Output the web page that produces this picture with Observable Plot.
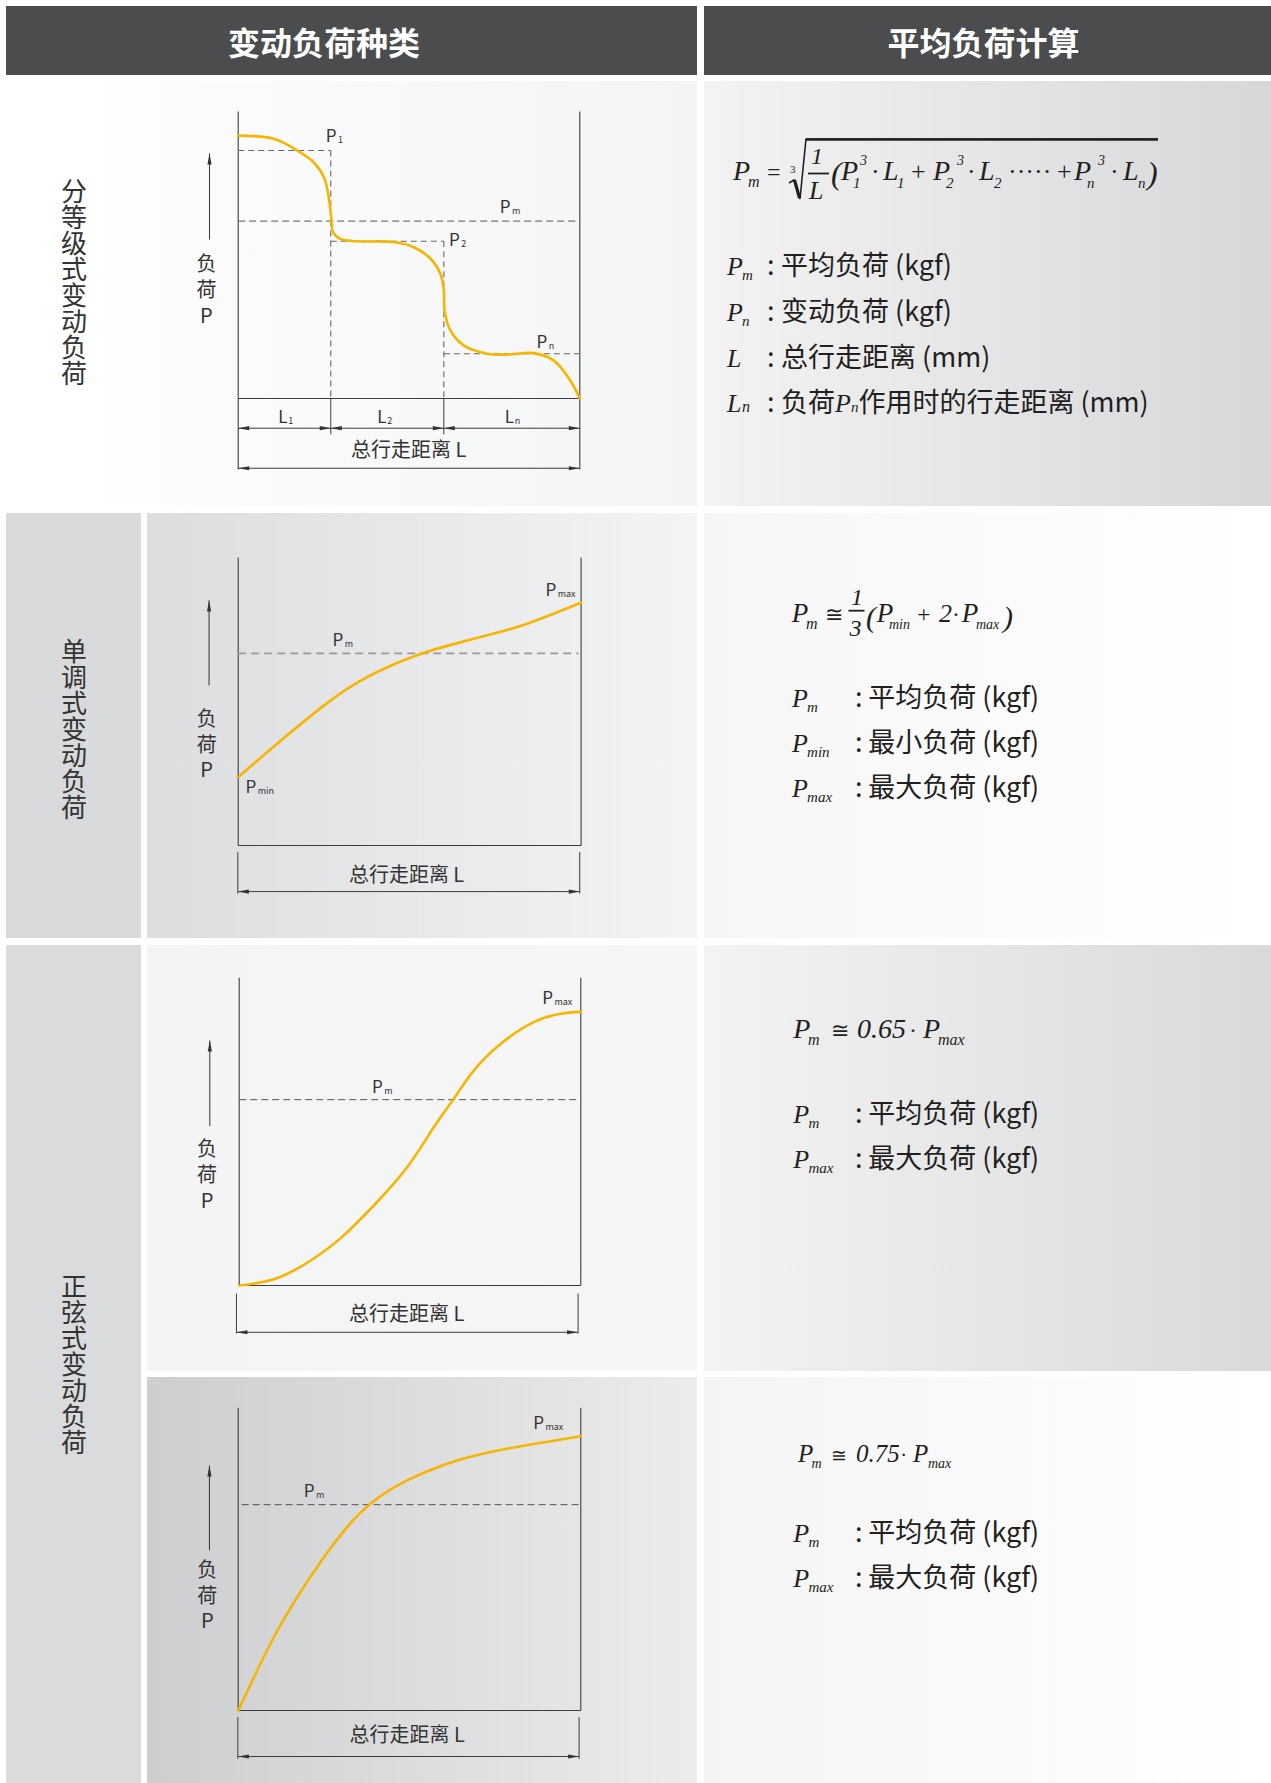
<!DOCTYPE html>
<html><head><meta charset="utf-8">
<script src="https://cdn.jsdelivr.net/npm/d3@7"></script>
<script src="https://cdn.jsdelivr.net/npm/@observablehq/plot@0.6"></script>
<style>
body{margin:0;background:#fff;}
#page{position:relative;width:1271px;height:1783px;overflow:hidden;font-family:"Noto Sans CJK SC","Noto Sans",sans-serif;}
.bg{position:absolute;}
.hdr{position:absolute;background:#4b4c4e;color:#fff;font-weight:700;font-size:32px;display:flex;align-items:center;justify-content:center;letter-spacing:0;box-sizing:border-box;}
.rowlabel{position:absolute;writing-mode:vertical-rl;text-orientation:upright;font-size:26px;color:#333;display:flex;align-items:center;justify-content:center;}
.chart{position:absolute;}
#math{position:absolute;left:0;top:0;}
</style></head><body><div id="page"></div>
<script>
// ================= DATA =================
const headers = ["变动负荷种类", "平均负荷计算"];
const rowTitles = ["分等级式变动负荷", "单调式变动负荷", "正弦式变动负荷"];
const axisLabelY = "负\n荷\nP";
const axisLabelX = "总行走距离 L";

// Chart 1: stepped load (x = travel 0..100, P = load 0..100)
const c1X = [0, 10.4, 17.3, 22.1, 25.1, 26.5, 27.2, 27.8, 29.9, 34.8, 45.6, 51.4, 56.3, 59.2, 60.2, 60.4, 62.1, 66.0, 72.9, 78.7, 86.5, 92.4, 97.2, 100];
const c1P = [91.6, 90.5, 86.4, 82.3, 77.1, 70.1, 63.2, 57.9, 55.6, 54.8, 54.5, 52.7, 48.7, 43.4, 37.6, 30.7, 23.7, 18.5, 15.6, 15.3, 15.8, 13.2, 6.3, 0];
const c1Bounds = [0, 27.1, 60.2, 100];        // L1 | L2 | Ln boundaries
const c1Levels = [86.4, 54.8, 15.6];          // P1, P2, Pn
const c1LevelSubs = ["1", "2", "n"];
const c1Pm = 61.8;

// Chart 2: monotonic
const c2X = [0, 11.6, 24.7, 35.1, 45.6, 53.4, 61.2, 74.3, 84.7, 100];
const c2P = [23.7, 35.6, 48.3, 56.8, 63.0, 66.6, 69.4, 73.5, 77.2, 84.3];
const c2Pm = 66.7;

// Chart 3: sinusoidal (S-curve)
const c3X = [0, 10.1, 19.9, 29.7, 39.4, 49.2, 57.0, 62.8, 68.7, 76.5, 86.2, 94.1, 100];
const c3P = [0, 2.0, 7.4, 15.4, 26.0, 38.5, 51.5, 60.7, 69.9, 78.5, 85.6, 88.3, 89.0];
const c3Pm = 60.4;

// Chart 4: sinusoidal (quarter wave)
const c4X = [0, 4.6, 10.4, 17.2, 25.0, 31.8, 38.6, 49.3, 63.9, 78.5, 100];
const c4P = [0, 11.0, 24.2, 37.4, 50.6, 60.6, 68.3, 76.0, 82.6, 86.5, 90.6];
const c4Pm = 68.0;

// ================= PAGE LAYOUT =================
const page = document.getElementById("page");
function box(cls, l, t, w, h, bg, html) {
  const d = document.createElement("div");
  d.className = cls;
  Object.assign(d.style, {left: l + "px", top: t + "px", width: w + "px", height: h + "px"});
  if (bg) d.style.background = bg;
  if (html != null) d.textContent = html;
  page.appendChild(d);
  return d;
}
const grad = (a, b) => `linear-gradient(to right, ${a}, ${b})`;
box("hdr", 6, 6, 691, 69, null, headers[0]).style.paddingRight = "55px";
box("hdr", 704, 6, 567, 69, null, headers[1]).style.paddingRight = "8px";
// row 1
box("bg", 6, 81, 154, 425, grad("#ffffff", "#fefefe"));
box("bg", 160, 81, 537, 425, grad("#fcfcfc", "#f3f4f4"));
box("bg", 704, 81, 567, 425, grad("#f3f3f3", "#d6d7d9"));
// row 2
box("bg", 6, 513, 135, 425, "#d9dadc");
box("bg", 147, 513, 550, 425, grad("#dcdddf", "#f3f4f4"));
box("bg", 704, 513, 567, 425, grad("#f6f6f6", "#ffffff"));
// rows 3-4
box("bg", 6, 945, 135, 838, "#dadbdc");
box("bg", 147, 945, 550, 426, grad("#f3f4f4", "#f6f6f6"));
box("bg", 704, 945, 567, 426, grad("#f3f3f3", "#d8d9db"));
box("bg", 147, 1377, 550, 406, grad("#cdced0", "#ececec"));
box("bg", 704, 1377, 567, 406, grad("#f4f4f4", "#ffffff"));
// row titles
box("rowlabel", 6, 132, 136, 300, null, rowTitles[0]);
box("rowlabel", 6, 579, 136, 300, null, rowTitles[1]);
box("rowlabel", 6, 1214, 136, 300, null, rowTitles[2]);

// ================= CHARTS =================
const INK = "#3c3c3c", CURVE = "#f7b500", FONT = "Noto Sans CJK SC";
const hasSpike = typeof Plot.spike === "function";
function heads(data) {
  if (hasSpike) return Plot.vector(data, {x: "x", y: "y", rotate: "rot", length: 11, shape: "spike", r: 2.1, anchor: "end", fill: "#333", stroke: "none"});
  return Plot.arrow(data, {x1: d => d.x, y1: "y", x2: d => d.x, y2: "y", stroke: "#333"});
}
function pLabels(labels, fs = 17) {
  return [
    Plot.text(labels, {x: "x", y: "y", text: d => d.main ?? "P", textAnchor: "start", lineAnchor: "bottom", fontSize: fs, fill: "#333", fontFamily: FONT}),
    Plot.text(labels, {x: "x", y: "y", text: "sub", textAnchor: "start", lineAnchor: "bottom", fontSize: 9,
      dx: labels.length && labels[0].main === "L" ? 10 : fs * 0.72, dy: 1, fill: "#333", fontFamily: FONT})
  ];
}
function common(X, P, lay, curve) {
  const pts = X.map((x, i) => ({x, p: P[i]}));
  const frame = [
    {x1: 0, x2: 0, y1: lay.frameLow, y2: 100},
    {x1: 100, x2: 100, y1: lay.frameLow, y2: 100},
    {x1: 0, x2: 100, y1: 0, y2: 0}
  ];
  return [
    Plot.link(frame, {x1: "x1", x2: "x2", y1: "y1", y2: "y2", stroke: INK, strokeWidth: 1.1}),
    Plot.link([lay.yArrow], {x1: "x", x2: "x", y1: "y1", y2: "y2", stroke: "#333", strokeWidth: 1}),
    heads([{x: lay.yArrow.x, y: lay.yArrow.y2, rot: 0}]),
    Plot.text([lay.yLab], {x: "x", y: "y", text: () => axisLabelY, fontSize: 20, lineHeight: 1.28, fill: "#333", fontFamily: FONT}),
    Plot.line(pts, {x: "x", y: "p", stroke: CURVE, strokeWidth: 2.6, curve}),
    Plot.text([lay.total], {x: "x", y: "y", text: () => axisLabelX, fontSize: 20, fill: "#333", fontFamily: FONT})
  ];
}
function makePlot(marks, lay) {
  const svg = Plot.plot({
    width: 550, height: lay.height,
    marginLeft: lay.mL, marginRight: lay.mR, marginTop: lay.mT, marginBottom: lay.mB,
    x: {domain: [0, 100], axis: null},
    y: {domain: [0, 100], axis: null},
    style: {background: "transparent", overflow: "visible", fontFamily: FONT},
    marks
  });
  const d = box("chart", 147, lay.top, 550, lay.height);
  d.appendChild(svg);
}

// ---- Chart 1 ----
{
  const lay = {top: 80, height: 426, mL: 90.7, mR: 117.7, mT: 31, mB: 108, frameLow: -24.7,
    yArrow: {x: -8.4, y1: 55.4, y2: 85.4}, yLab: {x: -9.3, y: 38.2},
    total: {x: 49.9, y: -18.1}, dimY: -10.35, totY: -24.3, extLow: -12.5, lY: -8.6};
  const segs = d3.pairs(c1Bounds);
  const steps = segs.map((s, i) => ({x1: s[0], x2: s[1], p: c1Levels[i], sub: c1LevelSubs[i]}));
  const marks = common(c1X, c1P, lay, "catmull-rom");
  marks.splice(1, 0,
    Plot.link(steps, {x1: "x1", x2: "x2", y1: "p", y2: "p", stroke: "#666", strokeWidth: 1.1, strokeDasharray: "6,4"}),
    Plot.link(steps.slice(1), {x1: "x1", x2: "x1", y1: (d, i) => steps[i].p, y2: () => 0, stroke: "#666", strokeWidth: 1.1, strokeDasharray: "6,4"}),
    Plot.link(steps.slice(1), {x1: "x1", x2: "x1", y1: () => 0, y2: () => lay.extLow, stroke: INK, strokeWidth: 1}),
    Plot.link([{p: c1Pm}], {x1: () => 0, x2: () => 100, y1: "p", y2: "p", stroke: "#777", strokeWidth: 1.2, strokeDasharray: "7,4"})
  );
  marks.push(
    Plot.link(segs, {x1: s => s[0], x2: s => s[1], y1: () => lay.dimY, y2: () => lay.dimY, stroke: INK, strokeWidth: 1}),
    heads(segs.flatMap(s => [{x: s[0], y: lay.dimY, rot: -90}, {x: s[1], y: lay.dimY, rot: 90}])),
    Plot.link([[0, 100]], {x1: s => s[0], x2: s => s[1], y1: () => lay.totY, y2: () => lay.totY, stroke: INK, strokeWidth: 1}),
    heads([{x: 0, y: lay.totY, rot: -90}, {x: 100, y: lay.totY, rot: 90}]),
    ...pLabels([
      {x: 25.6, y: 89.3, sub: "1"}, {x: 76.6, y: 64.5, sub: "m"},
      {x: 61.7, y: 53.1, sub: "2"}, {x: 87.3, y: 17.7, sub: "n"}
    ]),
    ...pLabels(segs.map((s, i) => ({x: [11.7, 40.7, 78.0][i], y: lay.lY, main: "L", sub: c1LevelSubs[i]})))
  );
  makePlot(marks, lay);
}

function simpleChart(X, P, Pm, lay, labels) {
  const marks = common(X, P, lay, "natural");
  marks.splice(1, 0, Plot.link([{p: Pm}], {x1: () => lay.pmX1, x2: () => lay.pmX2, y1: "p", y2: "p", stroke: lay.dashColor, strokeWidth: lay.dashWidth, strokeDasharray: lay.dash}));
  const ext = [lay.extX[0], lay.extX[1]];
  marks.push(
    Plot.link(ext, {x1: d => d, x2: d => d, y1: () => lay.extTop, y2: () => lay.extLow, stroke: INK, strokeWidth: 1}),
    Plot.link([ext], {x1: s => s[0], x2: s => s[1], y1: () => lay.dimY, y2: () => lay.dimY, stroke: INK, strokeWidth: 1}),
    heads([{x: ext[0], y: lay.dimY, rot: -90}, {x: ext[1], y: lay.dimY, rot: 90}]),
    ...pLabels(labels)
  );
  makePlot(marks, lay);
}
// ---- Chart 2 ----
simpleChart(c2X, c2P, c2Pm,
  {top: 513, height: 425, mL: 90.7, mR: 116.4, mT: 44, mB: 93, frameLow: 0,
   yArrow: {x: -8.5, y1: 55.6, y2: 85.1}, yLab: {x: -9.2, y: 35.4}, total: {x: 49.1, y: -10.4},
   pmX1: 0, pmX2: 99.2, dashColor: "#9a9a9a", dashWidth: 1.8, dash: "8,5",
   extX: [-0.1, 99.6], extTop: -2.3, extLow: -16.7, dimY: -16.0},
  [{x: 27.5, y: 69.4, sub: "m"}, {x: 89.6, y: 86.8, sub: "max"}, {x: 2.1, y: 18.1, sub: "min"}]);
// ---- Chart 3 ----
simpleChart(c3X, c3P, c3Pm,
  {top: 945, height: 426, mL: 91.7, mR: 116.7, mT: 32.3, mB: 86, frameLow: 0,
   yArrow: {x: -8.6, y1: 51.8, y2: 79.6}, yLab: {x: -9.4, y: 36.3}, total: {x: 49.0, y: -9.4},
   pmX1: 0, pmX2: 99.2, dashColor: "#555", dashWidth: 1, dash: "7,4",
   extX: [-0.8, 99.2], extTop: -2.6, extLow: -15.6, dimY: -15.2},
  [{x: 38.9, y: 62.5, sub: "m"}, {x: 88.7, y: 91.6, sub: "max"}]);
// ---- Chart 4 ----
simpleChart(c4X, c4P, c4Pm,
  {top: 1377, height: 406, mL: 90.7, mR: 116.7, mT: 30.3, mB: 73, frameLow: 0,
   yArrow: {x: -8.4, y1: 52.9, y2: 80.9}, yLab: {x: -9.0, y: 38.3}, total: {x: 49.3, y: -8.3},
   pmX1: 1, pmX2: 100, dashColor: "#555", dashWidth: 1, dash: "7,4",
   extX: [-0.1, 99.5], extTop: -2.2, extLow: -16.0, dimY: -15.2},
  [{x: 19.1, y: 70.5, sub: "m"}, {x: 86.1, y: 93.1, sub: "max"}]);

// ================= FORMULAS (text) =================
const SERIF = "'Liberation Serif','DejaVu Serif',serif";
const CJK = "'Noto Sans CJK SC','Noto Sans',sans-serif";
const TXT = "#231f20";
const DEF = 27;
let S = "";
function m(x, y, s, size, italic = true) {
  S += `<text x="${x}" y="${y}" font-family="${SERIF}" font-size="${size}" ${italic ? 'font-style="italic"' : ''} fill="${TXT}">${s}</text>`;
}
function cn(x, y, s, size = DEF) {
  S += `<text x="${x}" y="${y}" font-family="${CJK}" font-size="${size}" fill="${TXT}">${s}</text>`;
}
function line(x1, y1, x2, y2, w) {
  S += `<line x1="${x1}" y1="${y1}" x2="${x2}" y2="${y2}" stroke="${TXT}" stroke-width="${w}"/>`;
}
function def(x, y, sym, sub, colonX, textX, text, size = 26, subSize = 15) {
  m(x, y, sym, size);
  if (sub) m(x + size * 0.58, y + 5, sub, subSize);
  cn(colonX, y, ":");
  cn(textX, y, text);
}
// --- formula 1 ---
{
  const B = 180;
  m(733, B, "P", 28); m(748, B + 7, "m", 16);
  m(767, B, "=", 24, false);
  m(790, 173, "3", 11, false);
  S += `<path d="M789,183 L794,180 L800,199 L806,139 L1158,139" fill="none" stroke="${TXT}" stroke-width="1.6"/>`;
  line(794.5, 180, 799.5, 198, 3.2);
  line(806, 139.5, 1158, 139.5, 2.4);
  m(811, 164, "1", 24); line(808, 173.5, 829, 173.5, 1.8); m(809, 199, "L", 26);
  m(831, 184, "(", 32);
  m(841, B, "P", 28); m(853, B + 8, "1", 15); m(860, B - 15, "3", 14);
  m(871, B, "·", 26, false);
  m(883, B, "L", 28); m(897, B + 8, "1", 15);
  m(911, B, "+", 26, false);
  m(933, B, "P", 28); m(946, B + 8, "2", 15); m(957, B - 15, "3", 14);
  m(967, B, "·", 26, false);
  m(979, B, "L", 28); m(994, B + 8, "2", 15);
  m(1008, B, "·····", 26, false);
  m(1057, B, "+", 26, false);
  m(1074, B, "P", 28); m(1087, B + 8, "n", 15); m(1098, B - 15, "3", 14);
  m(1110, B, "·", 26, false);
  m(1123, B, "L", 28); m(1138, B + 8, "n", 15);
  m(1147, 184, ")", 32);
  def(727, 275, "P", "m", 767, 781, "平均负荷 (kgf)");
  def(727, 320.7, "P", "n", 767, 781, "变动负荷 (kgf)");
  def(727, 366.7, "L", "", 767, 781, "总行走距离 (mm)");
  m(727, 411.7, "L", 26); m(742, 411.7, "n", 16);
  cn(767, 411.7, ":");
  S += `<text x="781" y="411.7" font-family="${CJK}" font-size="${DEF}" fill="${TXT}">负荷<tspan font-family="${SERIF}" font-style="italic" font-size="26">P</tspan><tspan font-family="${SERIF}" font-style="italic" font-size="15">n</tspan>作用时的行走距离 (mm)</text>`;
}
// --- formula 2 ---
{
  const B = 621.7;
  m(791.7, B, "P", 27); m(806, B + 7, "m", 16);
  m(825, B, "≅", 22, false);
  m(851, 605, "1", 24); line(848.5, 610.7, 864.5, 610.7, 1.8); m(849.5, 636, "3", 24);
  m(866, 627, "(", 30);
  m(876.7, B, "P", 27); m(889, B + 7, "min", 14);
  m(917, B, "+", 24, false);
  m(939, B, "2", 26);
  m(952, B, "·", 24, false);
  m(961.7, B, "P", 27); m(976, B + 7, "max", 14);
  m(1003, 627, ")", 30);
  def(792, 706.7, "P", "m", 855, 868.3, "平均负荷 (kgf)");
  def(792, 751.7, "P", "min", 855, 868.3, "最小负荷 (kgf)");
  def(792, 796.7, "P", "max", 855, 868.3, "最大负荷 (kgf)");
}
// --- formula 3 ---
{
  const B = 1038.3;
  m(793.3, B, "P", 28); m(808, B + 7, "m", 16);
  m(831, B, "≅", 22, false);
  m(857, B, "0.65", 28);
  m(909, B, "·", 24, false);
  m(923, B, "P", 28); m(938, B + 7, "max", 16);
  def(793.3, 1123.3, "P", "m", 855, 868.3, "平均负荷 (kgf)");
  def(793.3, 1168.3, "P", "max", 855, 868.3, "最大负荷 (kgf)");
}
// --- formula 4 ---
{
  const B = 1461.7;
  m(798, B, "P", 25); m(811.5, B + 6, "m", 14);
  m(831, B, "≅", 19, false);
  m(856, B, "0.75", 25);
  m(900, B, "·", 22, false);
  m(913, B, "P", 25); m(928, B + 6, "max", 14);
  def(793.3, 1541.7, "P", "m", 855, 868.3, "平均负荷 (kgf)");
  def(793.3, 1586.7, "P", "max", 855, 868.3, "最大负荷  (kgf)");
}
const ns = "http://www.w3.org/2000/svg";
const holder = document.createElement("div");
holder.innerHTML = `<svg id="math" xmlns="${ns}" width="1271" height="1783" viewBox="0 0 1271 1783">${S}</svg>`;
page.appendChild(holder.firstChild);
</script></body></html>
